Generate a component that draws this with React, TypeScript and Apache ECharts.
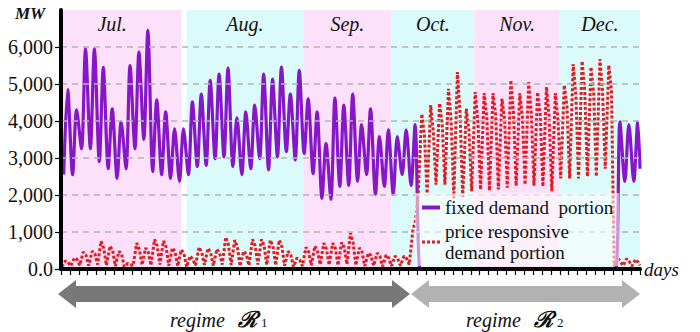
import React, { useEffect, useRef } from "react";
import * as echarts from "echarts";

// ---- data ----
const monthNames = ["Jul.", "Aug.", "Sep.", "Oct.", "Nov.", "Dec."];
const monthStart = [0, 14.1, 27.2, 37.1, 46.4, 56.0];
const monthEnd = [13.5, 27.2, 37.1, 46.4, 56.0, 65];

const yTickValues = [0, 1000, 2000, 3000, 4000, 5000, 6000];

// fixed demand portion: daily trough (before the peak) and daily peak, days 0..64
const fixedTrough = [
  2550, 2550, 3250, 3250, 2900, 2710, 2450, 2710, 3250, 3500, 2630, 2550, 2450, 2370,
  2550, 2770, 2800, 2980, 3030, 2770, 2550, 2710, 2980, 2680, 3030, 3170, 2950, 3120,
  2580, 1910, 1880, 2230, 2260, 2370, 2550, 2020, 2230, 2020, 2550, 2260,
  0, 0, 0, 0, 0, 0, 0, 0, 0, 0, 0, 0, 0, 0, 0, 0, 0, 0, 0, 0, 0, 0,
  0, 2370, 2370,
];
const fixedPeak = [
  4850, 4300, 5950, 5950, 5450, 4330, 3980, 5500, 5860, 6450, 4570, 4250, 3790, 3790,
  4520, 4730, 5100, 5270, 5430, 4090, 4250, 4430, 5270, 5130, 5460, 4730, 5370, 4600,
  4250, 3390, 4620, 4430, 4730, 3900, 4330, 3580, 3760, 3580, 3760, 3900,
  0, 0, 0, 0, 0, 0, 0, 0, 0, 0, 0, 0, 0, 0, 0, 0, 0, 0, 0, 0, 0, 0,
  3980, 3900, 3980,
];
const FIXED_END = 2710;

// price responsive demand portion: daily trough, peak and evening shoulder, days 0..64
const priceTrough = [
  60, 80, 100, 90, 120, 100, 80, 60, 90, 110, 100, 120, 90, 80,
  60, 100, 110, 90, 120, 110, 80, 100, 120, 110, 100, 90, 60, 80,
  100, 120, 110, 100, 130, 100, 80, 90, 70, 80, 90, 120,
  2040, 2040, 2280, 2280, 1910, 1950, 2100, 2150, 2120, 2150, 2200, 2250, 2280, 2250,
  2230, 2100, 2450, 2450, 2450, 2500, 2500, 2710,
  80, 90, 80,
];
const pricePeak = [
  220, 300, 460, 480, 750, 620, 480, 150, 700, 570, 800, 760, 570, 520,
  350, 590, 560, 540, 860, 780, 480, 800, 800, 780, 780, 480, 300, 590,
  620, 700, 700, 720, 970, 570, 430, 430, 380, 350, 350, 1050,
  4190, 4430, 4480, 4870, 5320, 4330, 4780, 4750, 4750, 4600, 5100, 4750, 5050, 4780,
  4920, 4750, 4970, 5540, 5620, 5460, 5670, 5510,
  300, 280, 260,
];
const priceShoulder = [
  180, 260, 380, 420, 560, 500, 400, 120, 520, 450, 620, 600, 470, 420,
  260, 450, 440, 430, 650, 600, 400, 620, 640, 620, 600, 380, 240, 460,
  480, 540, 560, 580, 700, 460, 360, 350, 300, 280, 280, 1300,
  3630, 3700, 3900, 4000, 4200, 3750, 4000, 4100, 4150, 4050, 4200, 4100, 4200, 4150,
  4100, 4000, 4400, 4700, 4800, 4750, 4800, 4800,
  200, 200, 180,
];
const PRICE_END = 100;

// ---- build series points from the arrays ----
const fixedData: number[][] = [];
fixedPeak.forEach((p, d) => {
  fixedData.push([d + 0.3, fixedTrough[d]]);
  fixedData.push([d + 0.75, p]);
});
fixedData.push([fixedPeak.length, FIXED_END]);

const priceData: number[][] = [];
pricePeak.forEach((p, d) => {
  priceData.push([d + 0.1, priceTrough[d]]);
  priceData.push([d + 0.5, p]);
  priceData.push([d + 0.8, priceShoulder[d]]);
});
priceData.push([pricePeak.length, PRICE_END]);

const TNR = "Times New Roman";
const PINK = "#fde0f9";
const CYAN = "#dbfafa";
const PURPLE = "#8716c8";
const RED = "#e31b23";

export default function App() {
  const ref = useRef<HTMLDivElement>(null);
  useEffect(() => {
    if (!ref.current) return;
    const chart = echarts.init(ref.current, null, { renderer: "svg" });
    const bands = monthNames.map((name, i) => [
      {
        name,
        xAxis: monthStart[i],
        itemStyle: { color: i % 2 === 0 ? PINK : CYAN },
        label: i === 0 ? { offset: [-9, 0] } : undefined,
      },
      { xAxis: monthEnd[i] },
    ]);
    chart.setOption({
      animation: false,
      textStyle: { fontFamily: TNR },
      grid: { left: 61, right: 60, top: 10, bottom: 63, containLabel: false },
      legend: {
        orient: "vertical",
        left: 415,
        top: 193,
        padding: [4, 6, 3, 7],
        itemWidth: 18,
        itemHeight: 10,
        itemGap: 3,
        backgroundColor: "rgba(255,255,255,0.55)",
        data: [
          { name: "fixed", icon: "path://M0,0h18v4h-18z", itemStyle: { color: PURPLE } },
          {
            name: "price",
            icon: "path://M0,0h3v3h-3zM5,0h3v3h-3zM10,0h3v3h-3zM15,0h3v3h-3z",
            itemStyle: { color: RED },
          },
        ],
        formatter: (n: string) =>
          n === "fixed" ? "fixed demand\u00a0 portion" : "price responsive\ndemand portion",
        textStyle: { fontFamily: TNR, fontSize: 19, color: "#111", lineHeight: 21 },
      },
      xAxis: {
        type: "value",
        min: 0,
        max: 65,
        interval: 1,
        z: 3,
        name: "days",
        nameLocation: "end",
        nameGap: 4,
        nameTextStyle: { fontFamily: TNR, fontSize: 19, fontStyle: "italic", color: "#111", verticalAlign: "middle" },
        axisLine: { lineStyle: { color: "#000", width: 4 } },
        axisTick: { show: true, length: 6, lineStyle: { color: "#000", width: 1.2 } },
        axisLabel: { show: false },
        splitLine: { show: false },
      },
      yAxis: {
        type: "value",
        min: 0,
        max: 7000,
        interval: 1000,
        z: 3,
        axisLine: { show: true, lineStyle: { color: "#000", width: 4 } },
        axisTick: { show: true, length: 6, lineStyle: { color: "#000", width: 1.2 } },
        axisLabel: {
          showMaxLabel: false,
          margin: 8,
          fontFamily: TNR,
          fontSize: 20,
          color: "#111",
          formatter: (v: number) =>
            yTickValues.includes(v) ? (v === 0 ? "0.0" : v.toLocaleString("en-US")) : "",
        },
        splitLine: {
          show: true,
          showMinLine: false,
          showMaxLine: false,
          lineStyle: { color: "#b4b4b4", width: 1.5, type: [6, 5] },
        },
      },
      series: [
        {
          name: "bands",
          type: "line",
          data: [],
          z: -1,
          silent: true,
          markArea: {
            silent: true,
            label: {
              show: true,
              position: "insideTop",
              distance: 4,
              fontFamily: TNR,
              fontStyle: "italic",
              fontSize: 20,
              color: "#111",
            },
            data: bands,
          },
        },
        {
          name: "fixed",
          type: "line",
          data: fixedData,
          showSymbol: false,
          symbol: "none",
          smooth: 0.3,
          color: PURPLE,
          lineStyle: { color: PURPLE, width: 3.2 },
          z: 2,
        },
        {
          name: "price",
          type: "line",
          data: priceData,
          showSymbol: false,
          symbol: "none",
          color: RED,
          lineStyle: { color: RED, width: 3, type: [3, 2], cap: "butt" },
          z: 2,
        },
      ],
      graphic: [
        {
          type: "text",
          left: 15,
          top: 5,
          style: { text: "MW", fontFamily: TNR, fontStyle: "italic", fontWeight: "bold", fontSize: 17, fill: "#111" },
        },
        {
          type: "polygon",
          shape: {
            points: [
              [58, 294], [76, 280], [76, 286], [392, 286], [392, 280], [410, 294],
              [392, 308], [392, 302], [76, 302], [76, 308],
            ],
          },
          style: { fill: "#787878" },
        },
        {
          type: "polygon",
          shape: {
            points: [
              [411, 294], [429, 280], [429, 286], [622, 286], [622, 280], [640, 294],
              [622, 308], [622, 302], [429, 302], [429, 308],
            ],
          },
          style: { fill: "#b2b2b2" },
        },
        { type: "text", x: 170, y: 310, style: { text: "regime", fontFamily: TNR, fontStyle: "italic", fontSize: 20, fill: "#111" } },
        { type: "text", x: 238, y: 308, style: { text: "\u211B", fontFamily: TNR, fontStyle: "italic", fontWeight: "bold", fontSize: 22, fill: "#111" } },
        { type: "text", x: 261, y: 316, style: { text: "1", fontFamily: TNR, fontSize: 13, fill: "#111" } },
        { type: "text", x: 466, y: 310, style: { text: "regime", fontFamily: TNR, fontStyle: "italic", fontSize: 20, fill: "#111" } },
        { type: "text", x: 534, y: 308, style: { text: "\u211B", fontFamily: TNR, fontStyle: "italic", fontWeight: "bold", fontSize: 22, fill: "#111" } },
        { type: "text", x: 557, y: 316, style: { text: "2", fontFamily: TNR, fontSize: 13, fill: "#111" } },
      ],
    });
    return () => chart.dispose();
  }, []);
  return (
    <div
      ref={ref}
      style={{ position: "fixed", left: 0, top: 0, width: 700, height: 332, background: "#fff" }}
    />
  );
}
